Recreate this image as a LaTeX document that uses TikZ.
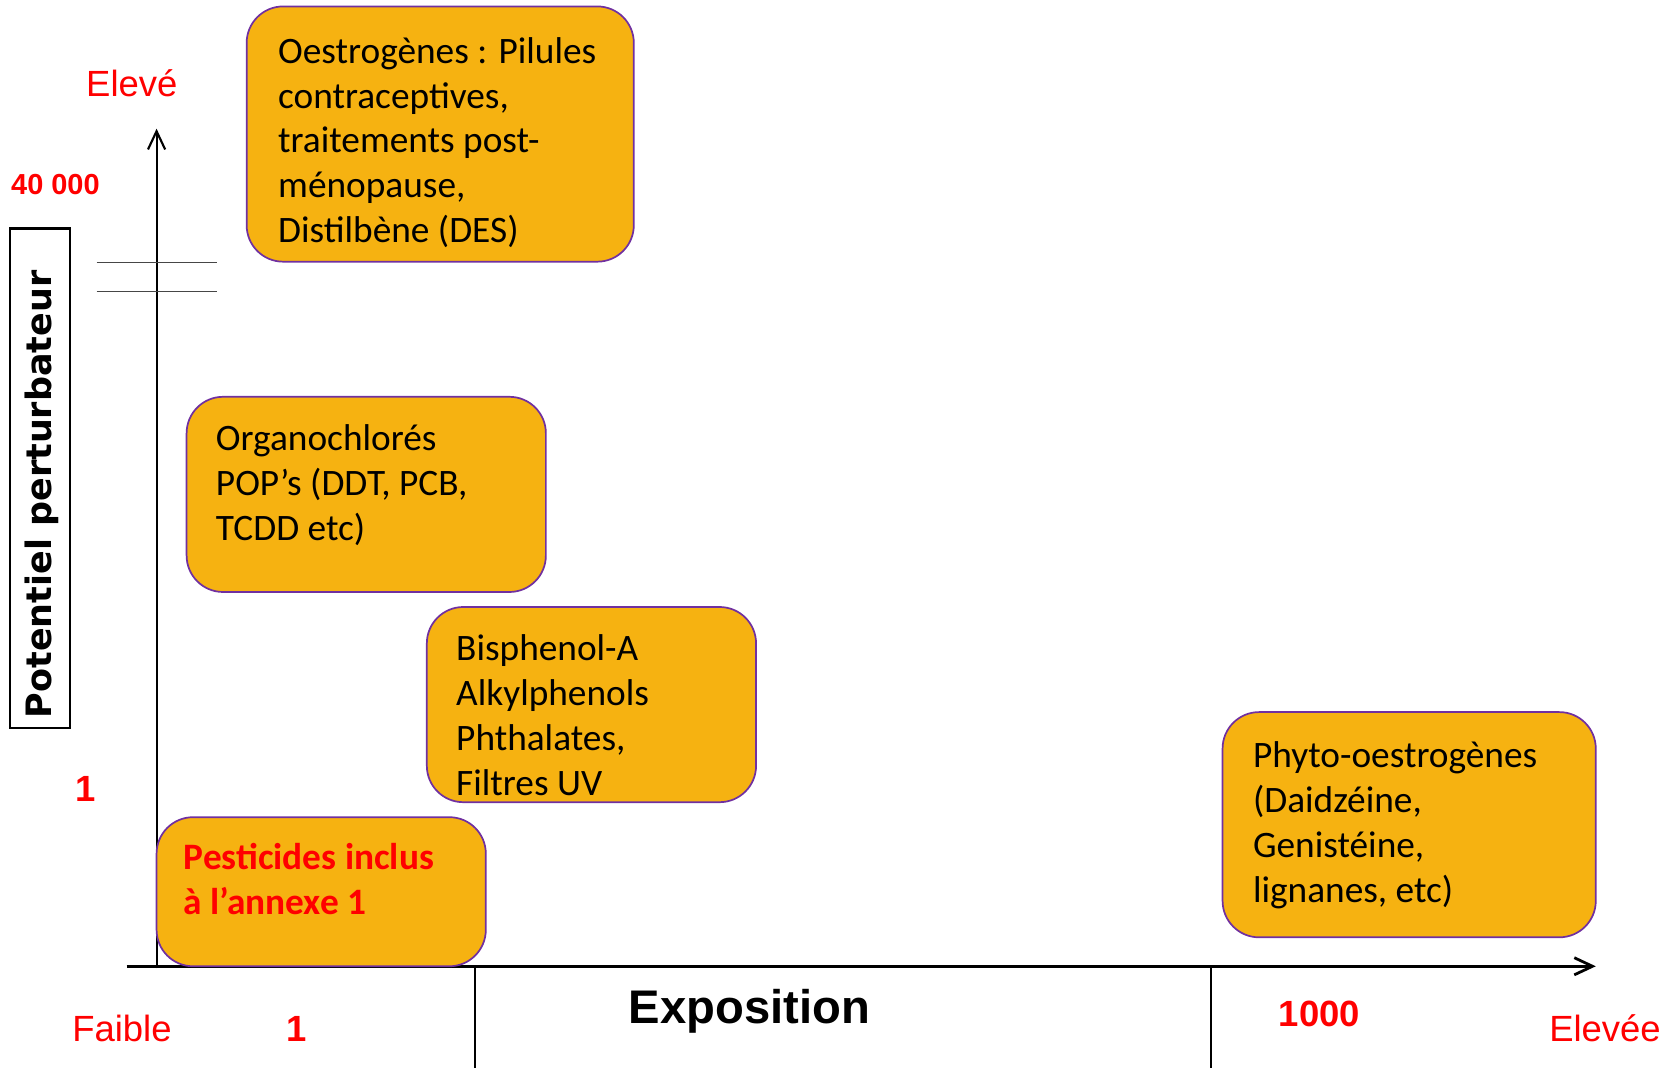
\documentclass[tikz,border=0pt]{standalone}
\usepackage{fontspec}
\setmainfont{Carlito}
\newfontfamily\arialf{Liberation Sans}
\newfontfamily\verdf{DejaVu Sans}
\usetikzlibrary{arrows.meta,fit}
\definecolor{boxfill}{RGB}{246,178,17}
\definecolor{boxline}{RGB}{112,48,160}
\definecolor{lblred}{RGB}{255,0,0}
\definecolor{breakgray}{RGB}{70,70,70}
\begin{document}
\begin{tikzpicture}[x=0.5pt,y=-0.5pt,
  box/.style={draw=boxline, line width=0.8pt, fill=boxfill, rounded corners=17pt, inner sep=0pt},
  boxtext/.style={anchor=base west, inner sep=0pt, font=\fontsize{17.4}{20.9}\selectfont},
  lbl/.style={inner sep=0pt, font=\arialf\fontsize{17}{20}\selectfont, text=lblred},
  num/.style={inner sep=0pt, font=\arialf\bfseries\fontsize{17}{20}\selectfont, text=lblred},
  axisline/.style={line width=1pt, -{Straight Barb[length=8.5pt,width=8pt]}},
  tickline/.style={line width=0.8pt},
  breakline/.style={line width=0.6pt, draw=breakgray}]
\useasboundingbox (0,0) rectangle (1560,996);

% axes
\coordinate (yo) at (146,903);
\coordinate (ytop) at (146,120);
\coordinate (xs) at (118,901);
\coordinate (xe) at (1488,901);
\draw[axisline] (yo) -- (ytop);
\draw[axisline, line width=1.3pt] (xs) -- (xe);

% ticks under x axis
\coordinate (ta1) at (443,901);
\coordinate (tb1) at (443,996);
\coordinate (ta2) at (1129,901);
\coordinate (tb2) at (1129,996);
\draw[tickline] (ta1) -- (tb1);
\draw[tickline] (ta2) -- (tb2);

% axis break
\coordinate (bl1) at (90,245);
\coordinate (br1) at (202,245);
\coordinate (bl2) at (90,272);
\coordinate (br2) at (202,272);
\draw[breakline] (bl1) -- (br1);
\draw[breakline] (bl2) -- (br2);

% boxes
\node[box, fit={(230,6) (591,244)}] (b1) {};
\node[box, fit={(174,370) (509,552)}] (b2) {};
\node[box, fit={(398,566) (705,748)}] (b3) {};
\node[box, fit={(146,762) (453,901)}] (b4) {};
\node[box, fit={(1140,664) (1488,874)}] (b5) {};

\node[boxtext] (t1) at (259,59) {\parbox[t]{12cm}{\raggedright Oestrogènes : Pilules\\contraceptives,\\traitements post-\\ménopause,\\Distilbène (DES)}};
\node[boxtext] (t2) at (201,420) {\parbox[t]{12cm}{\raggedright Organochlorés\\POP’s (DDT, PCB,\\TCDD etc)}};
\node[boxtext] (t3) at (425,616) {\parbox[t]{12cm}{\raggedright Bisphenol-A\\Alkylphenols\\Phthalates,\\Filtres UV}};
\node[boxtext, text=lblred, font=\fontsize{17.4}{20.9}\selectfont\bfseries] (t4) at (171,811) {\parbox[t]{12cm}{\raggedright Pesticides inclus\\à l’annexe 1}};
\node[boxtext] (t5) at (1168,716) {\parbox[t]{12cm}{\raggedright Phyto-oestrogènes\\(Daidzéine,\\Genistéine,\\lignanes, etc)}};

% y label
\node[draw, line width=1pt, fit={(9,213) (65,679)}, inner sep=0pt] (yframe) {};
\node[rotate=90, inner sep=0pt, font=\verdf\bfseries\fontsize{16.3}{20}\selectfont] (ylab) at (39,461) {Potentiel perturbateur};

% labels
\node[lbl, anchor=base west] (eleve) at (80,90) {Elevé};
\node[num, anchor=base west, font=\arialf\bfseries\fontsize{13.5}{16}\selectfont] (n40) at (10,181) {40 000};
\node[num, anchor=base] (n1y) at (80,747) {1};
\node[lbl, anchor=base west] (faible) at (67,971) {Faible};
\node[num, anchor=base] (n1x) at (277,971) {1};
\node[inner sep=0pt, anchor=base west, font=\arialf\bfseries\fontsize{22}{26}\selectfont] (expo) at (586,954) {Exposition};
\node[num, anchor=base west] (n1000) at (1192,957) {1000};
\node[lbl, anchor=base east] (elevee) at (1549,971) {Elevée};
\end{tikzpicture}
\end{document}
